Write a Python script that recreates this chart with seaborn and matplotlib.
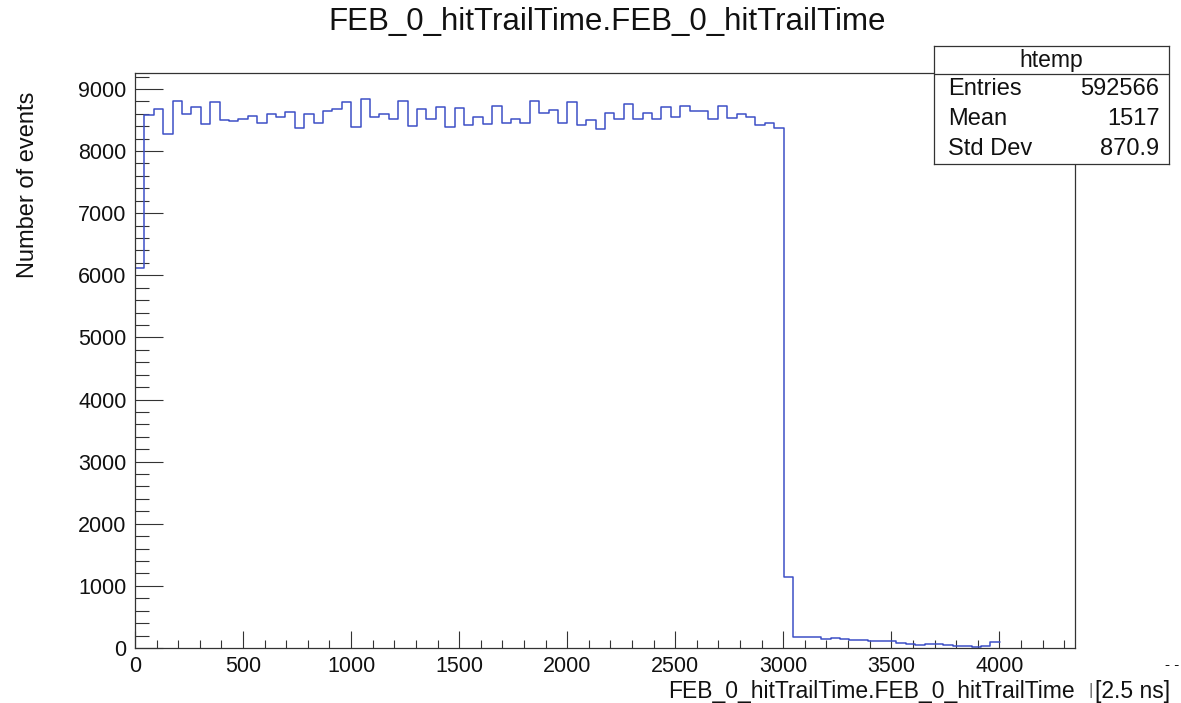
import numpy as np
import pandas as pd
import matplotlib
matplotlib.use("Agg")
import matplotlib.pyplot as plt
import seaborn as sns
from matplotlib.ticker import MultipleLocator

# histogram "htemp": 100 bins over [0, 4350], only the first 92 are filled
bin_width = 43.5
counts = [
    6110, 8578, 8670, 8270, 8805, 8595, 8703, 8443, 8784, 8503,
    8481, 8519, 8568, 8459, 8589, 8541, 8632, 8378, 8589, 8454,
    8649, 8676, 8784, 8389, 8832, 8551, 8595, 8514, 8805, 8405,
    8670, 8524, 8714, 8395, 8697, 8427, 8551, 8443, 8730, 8459,
    8514, 8459, 8805, 8616, 8654, 8459, 8784, 8427, 8497, 8351,
    8605, 8524, 8757, 8524, 8605, 8514, 8714, 8551, 8730, 8643,
    8643, 8524, 8730, 8535, 8589, 8541, 8427, 8459, 8378, 1150,
    172, 182, 178, 150, 158, 150, 135, 128, 112, 105,
    105, 85, 68, 55, 64, 62, 43, 30, 27, 10,
    27, 97,
]
x_range = (0, 4350)
y_max = 9265

title = "FEB_0_hitTrailTime.FEB_0_hitTrailTime"
x_label = "FEB_0_hitTrailTime.FEB_0_hitTrailTime"
x_unit = "[2.5 ns]"
y_label = "Number of events"
stats_name = "htemp"
stats_rows = [("Entries", "592566"), ("Mean", "1517"), ("Std Dev", "870.9")]

line_color = "#3d4fc6"
ink = "#111111"

sns.set_style("white")
plt.rcParams["font.family"] = ["Liberation Sans", "DejaVu Sans"]
plt.rcParams["text.color"] = ink
plt.rcParams["xtick.color"] = ink
plt.rcParams["ytick.color"] = ink

W, H = 1181, 703
fig = plt.figure(figsize=(W / 100, H / 100), dpi=100)
ax = fig.add_axes([135 / W, 1 - 648 / H, (1075 - 135) / W, (648 - 72.5) / H])

edges = np.arange(len(counts) + 1) * bin_width
df = pd.DataFrame({"t": edges[:-1] + bin_width / 2, "n": counts})
sns.histplot(data=df, x="t", weights="n", bins=list(edges), element="step", fill=False,
             color=line_color, linewidth=1.1, ax=ax)

ax.set_xlim(*x_range)
ax.set_ylim(0, y_max)
ax.set_xlabel("")
ax.set_ylabel("")

ax.xaxis.set_major_locator(MultipleLocator(500))
ax.xaxis.set_minor_locator(MultipleLocator(100))
ax.yaxis.set_major_locator(MultipleLocator(1000))
ax.yaxis.set_minor_locator(MultipleLocator(200))
ax.tick_params(which="both", bottom=True, left=True, top=False, right=False)
ax.tick_params(axis="x", which="major", direction="in", length=12.2, width=0.8,
               labelsize=15.5, pad=6, color="#333333", labelcolor=ink)
ax.tick_params(axis="x", which="minor", direction="in", length=6.1, width=0.8, color="#333333")
ax.tick_params(axis="y", which="major", direction="in", length=20.2, width=0.8,
               labelsize=15.5, pad=6, color="#333333", labelcolor=ink)
ax.tick_params(axis="y", which="minor", direction="in", length=10.1, width=0.8, color="#333333")
for s in ax.spines.values():
    s.set_color("#333333")
    s.set_linewidth(0.9)

fig.text(607 / W, 1 - 22 / H, title, ha="center", va="center", fontsize=22.5)
fig.text(28 / W, 1 - 185 / H, y_label, ha="center", va="center", rotation=90, fontsize=17)
fig.text(1075 / W, 1 - 698 / H, x_label, ha="right", va="baseline", fontsize=16.5)
fig.text(1091 / W, 1 - 690 / H, "|", ha="center", va="center", fontsize=12, color="#666666")
fig.text(1170 / W, 1 - 698 / H, x_unit, ha="right", va="baseline", fontsize=16.5)
fig.text(1172 / W, 1 - 665 / H, "- -", ha="center", va="center", fontsize=11)

# stats box
box = fig.add_axes([934 / W, 1 - 164 / H, (1169 - 934) / W, (164 - 46) / H], zorder=5)
box.set_xlim(0, 1)
box.set_ylim(0, 1)
box.set_xticks([])
box.set_yticks([])
box.set_facecolor("white")
for s in box.spines.values():
    s.set_color("#333333")
    s.set_linewidth(0.9)
head_line = 1 - (74 - 46) / 118
box.axhline(head_line, color="#333333", linewidth=0.9)
box.text(0.5, (1 + head_line) / 2, stats_name, ha="center", va="center", fontsize=16.5)
row_h = head_line / len(stats_rows)
for i, (k, v) in enumerate(stats_rows):
    yc = head_line - row_h * (i + 0.5)
    box.text(0.06, yc, k, ha="left", va="center", fontsize=17)
    box.text(0.96, yc, v, ha="right", va="center", fontsize=17)

fig.savefig("out.png", dpi=100)
